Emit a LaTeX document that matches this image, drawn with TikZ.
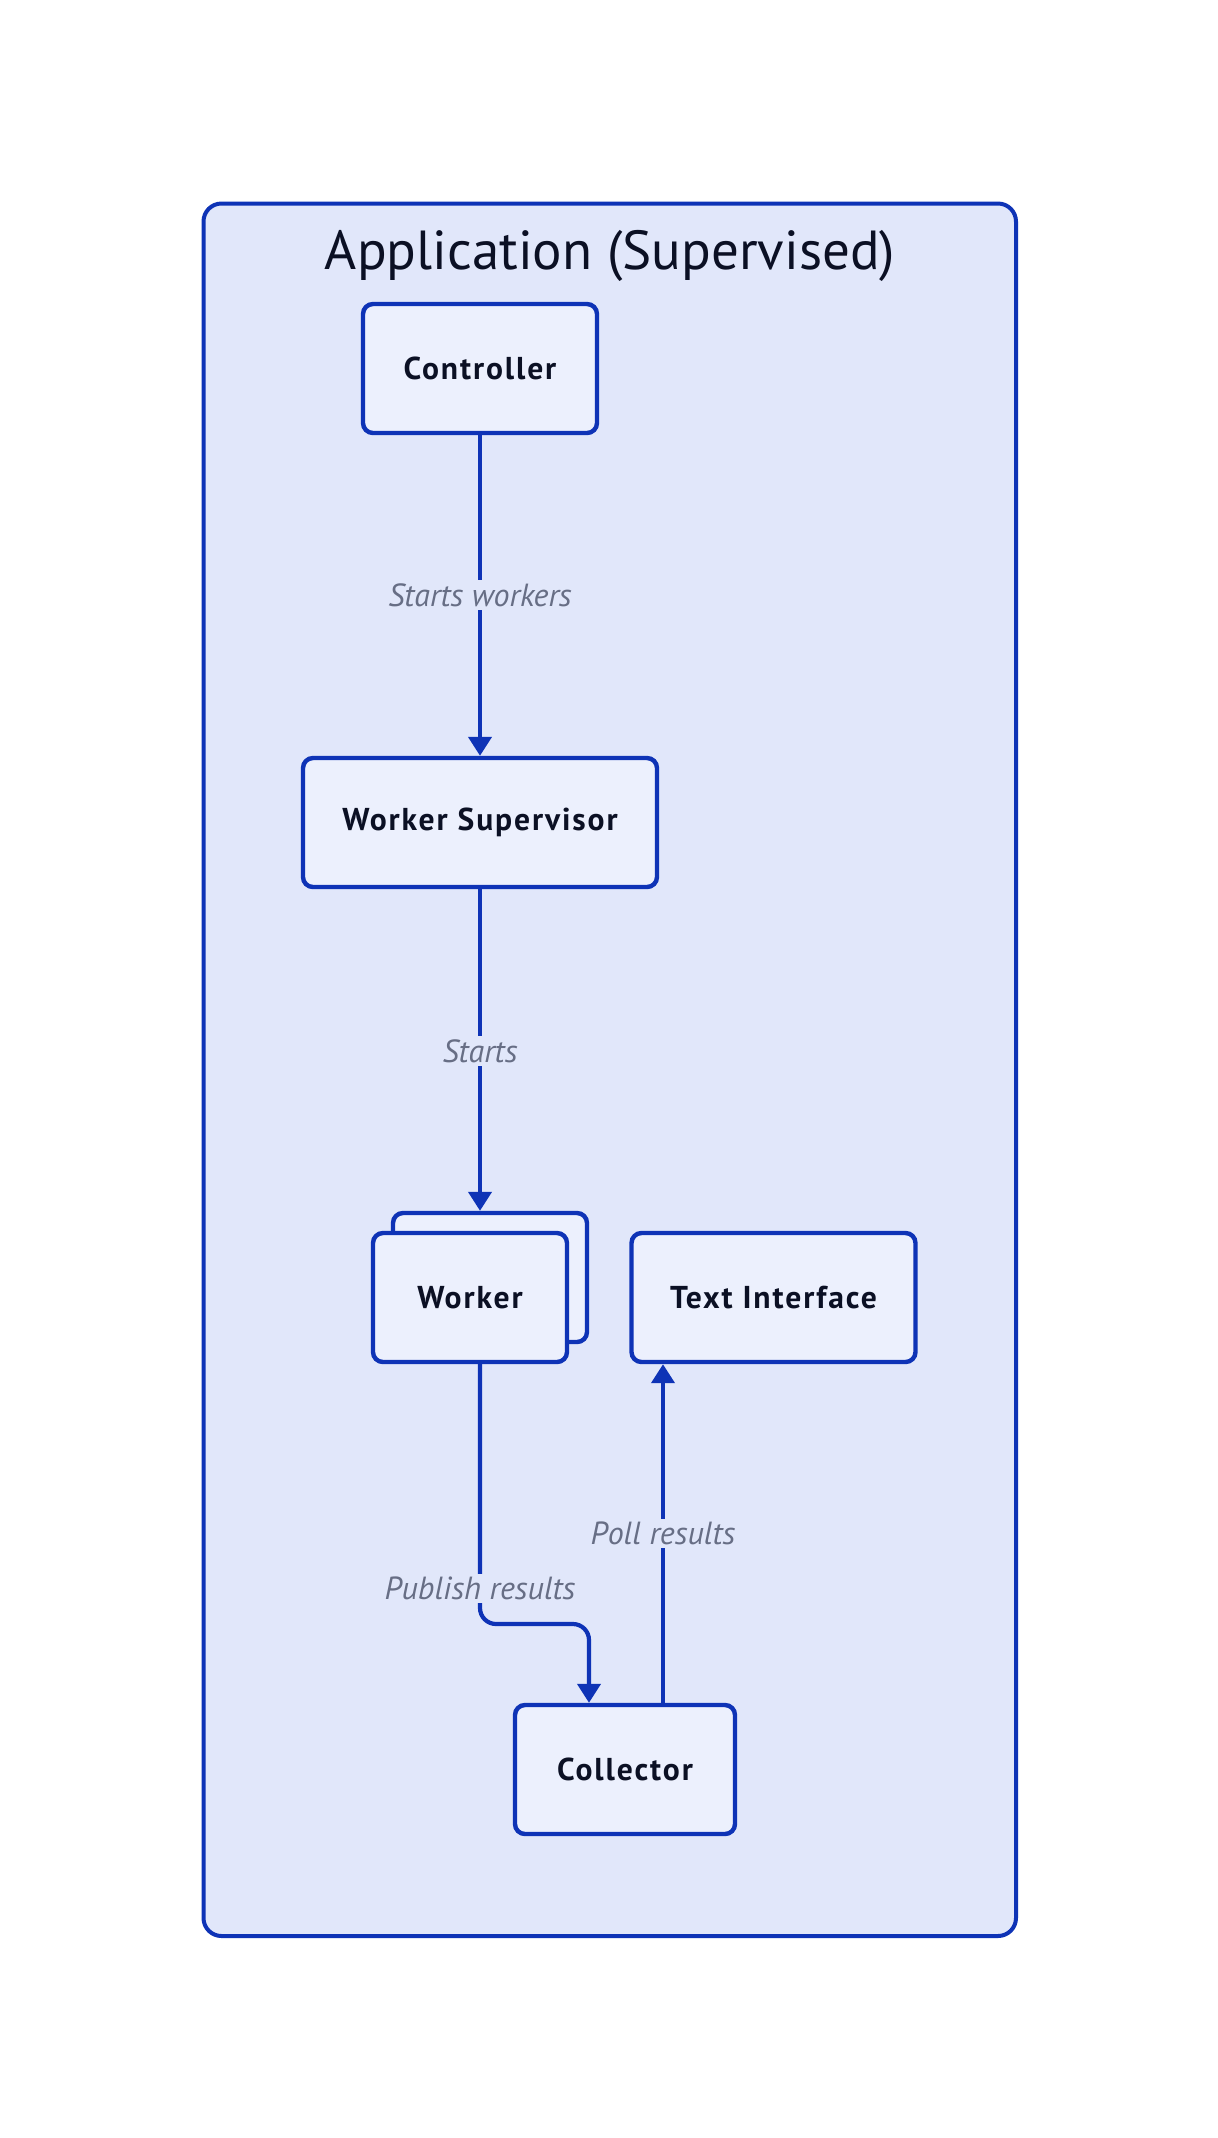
\documentclass[tikz,border=0pt]{standalone}
\usepackage{fontspec}
\setmainfont{PT Sans}
\newfontfamily\nodefont[LetterSpace=6.0]{PT Sans}
\usetikzlibrary{arrows.meta}
\definecolor{contfill}{HTML}{E1E7FA}
\definecolor{nodefill}{HTML}{ECF0FD}
\definecolor{edgeblue}{HTML}{0E33B6}
\definecolor{txtdark}{HTML}{0B1024}
\definecolor{lblgray}{HTML}{676E85}
\tikzset{
  box/.style={draw=edgeblue, fill=nodefill, line width=2.2pt, rounded corners=5pt,
    inner sep=0pt, text=txtdark, font=\nodefont\bfseries\fontsize{15.8}{19}\selectfont},
  flow/.style={draw=edgeblue, line width=2.1pt, -{Triangle[width=11.5pt,length=9.5pt]}},
  elabel/.style={fill=contfill, inner sep=1.5pt, text=lblgray, font=\itshape\fontsize{16}{19}\selectfont},
}
\begin{document}
\begin{tikzpicture}[x=0.5pt,y=-0.5pt]
\useasboundingbox (0,0) rectangle (1218,2138);
\fill[white] (0,0) rectangle (1218,2138);
% container
\draw[draw=edgeblue, fill=contfill, line width=2pt, rounded corners=9pt] (203.5,203.5) rectangle (1016,1936);
\node[anchor=base, text=txtdark, font=\fontsize{27.5}{32}\selectfont] (title) at (610,269) {Application (Supervised)};
% nodes
\node[box, minimum width=117pt, minimum height=64.5pt] (ctrl) at (480,368.5) {Controller};
\node[box, minimum width=177pt, minimum height=64.5pt] (ws) at (480,822.5) {Worker Supervisor};
\node[box, minimum width=97pt, minimum height=64.5pt] (wback) at (490,1277.5) {};
\node[box, minimum width=97pt, minimum height=64.5pt] (worker) at (470,1297.5) {Worker};
\node[box, minimum width=142pt, minimum height=64.5pt] (ti) at (773.5,1297.5) {Text Interface};
\node[box, minimum width=110pt, minimum height=64.5pt] (col) at (625,1769.5) {Collector};
% edges
\draw[flow] (ctrl.south) -- (ctrl.south |- ws.north);
\node[elabel] (l1) at (480,595) {Starts workers};
\draw[flow] (ws.south) -- (ws.south |- wback.north);
\node[elabel] (l2) at (480,1051) {Starts};
\coordinate (pubfrom) at (ws.south |- worker.south);
\coordinate (bend) at (0,1624);
\coordinate (colin) at (589,1703);
\draw[flow, rounded corners=8pt] (pubfrom) -- (pubfrom |- bend) -| (col.north -| colin);
\node[elabel] (l3) at (480,1588) {Publish results};
\coordinate (pollx) at (663,1703);
\draw[flow] (col.north -| pollx) -- (ti.south -| pollx);
\node[elabel] (l4) at (663,1533) {Poll results};
\end{tikzpicture}
\end{document}
